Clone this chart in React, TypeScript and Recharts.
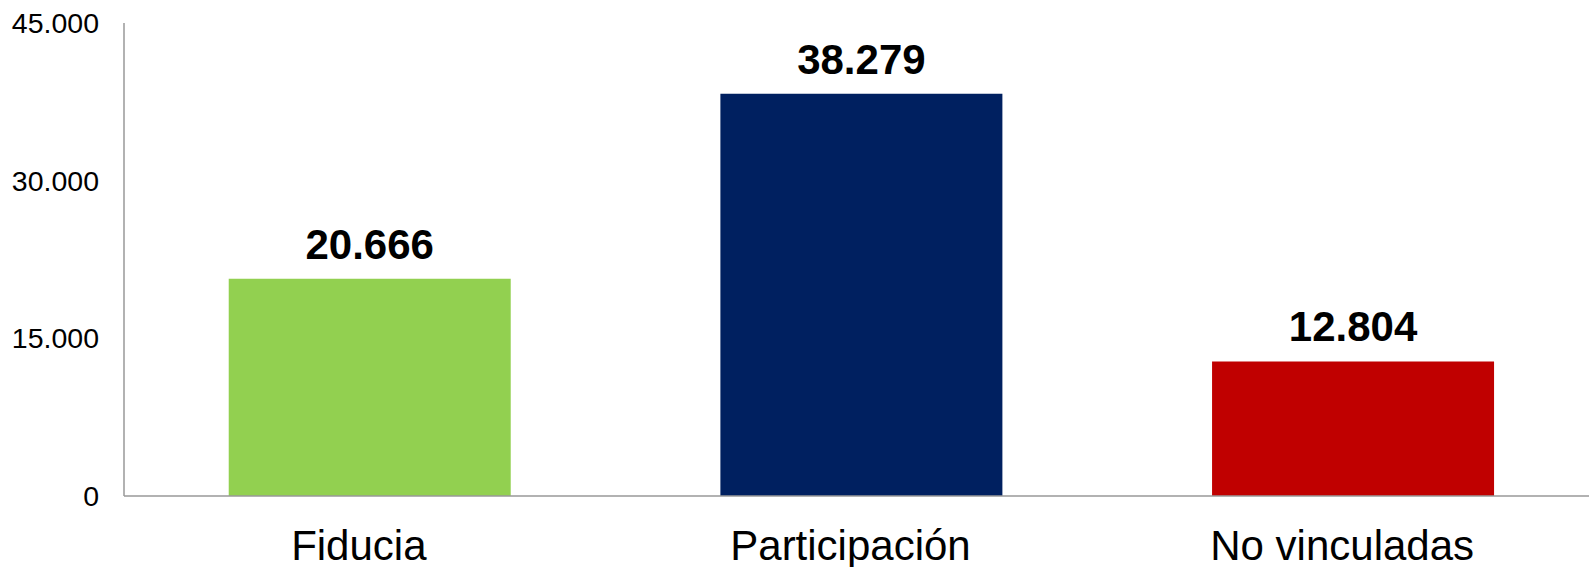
import { Bar, BarChart, Cell, LabelList, XAxis, YAxis } from "recharts";

const categories = ["Fiducia", "Participación", "No vinculadas"];
const values = [20666, 38279, 12804];
const barColors = ["#92D050", "#002060", "#C00000"];
const yTicks = [0, 15000, 30000, 45000];

const data = categories.map((name, i) => ({ name, value: values[i] }));

const fmt = (v: number) => String(v).replace(/\B(?=(\d{3})+(?!\d))/g, ".");

const FONT = "'Liberation Sans', Arial, sans-serif";

function CategoryTick(props: any) {
  const { x, y, payload } = props;
  return (
    <text
      x={x - 11}
      y={y + 62}
      textAnchor="middle"
      fontFamily={FONT}
      fontSize={42}
      fill="#000"
    >
      {payload.value}
    </text>
  );
}

export default function App() {
  return (
    <div
      style={{
        position: "absolute",
        left: 0,
        top: 0,
        width: 1589,
        height: 567,
        overflow: "hidden",
        background: "#fff",
      }}
    >
      <BarChart
        width={1599}
        height={567}
        data={data}
        margin={{ top: 23, right: 0, bottom: 0, left: 0 }}
        barCategoryGap="21.3%"
      >
        <XAxis
          dataKey="name"
          height={71}
          tickLine={false}
          tickSize={0}
          axisLine={{ stroke: "#999999", strokeWidth: 1.5 }}
          tick={<CategoryTick />}
          interval={0}
        />
        <YAxis
          width={124}
          domain={[0, 45000]}
          ticks={yTicks}
          tickFormatter={fmt}
          tickLine={false}
          tickSize={0}
          tickMargin={25}
          axisLine={{ stroke: "#999999", strokeWidth: 1.5 }}
          tick={{ fontFamily: FONT, fontSize: 28.5, fill: "#000" }}
        />
        <Bar dataKey="value" isAnimationActive={false}>
          {data.map((d, i) => (
            <Cell key={d.name} fill={barColors[i]} />
          ))}
          <LabelList
            dataKey="value"
            position="top"
            offset={20}
            formatter={(v: any) => fmt(Number(v))}
            style={{ fontFamily: FONT, fontSize: 42, fontWeight: "bold", fill: "#000" }}
          />
        </Bar>
      </BarChart>
    </div>
  );
}
